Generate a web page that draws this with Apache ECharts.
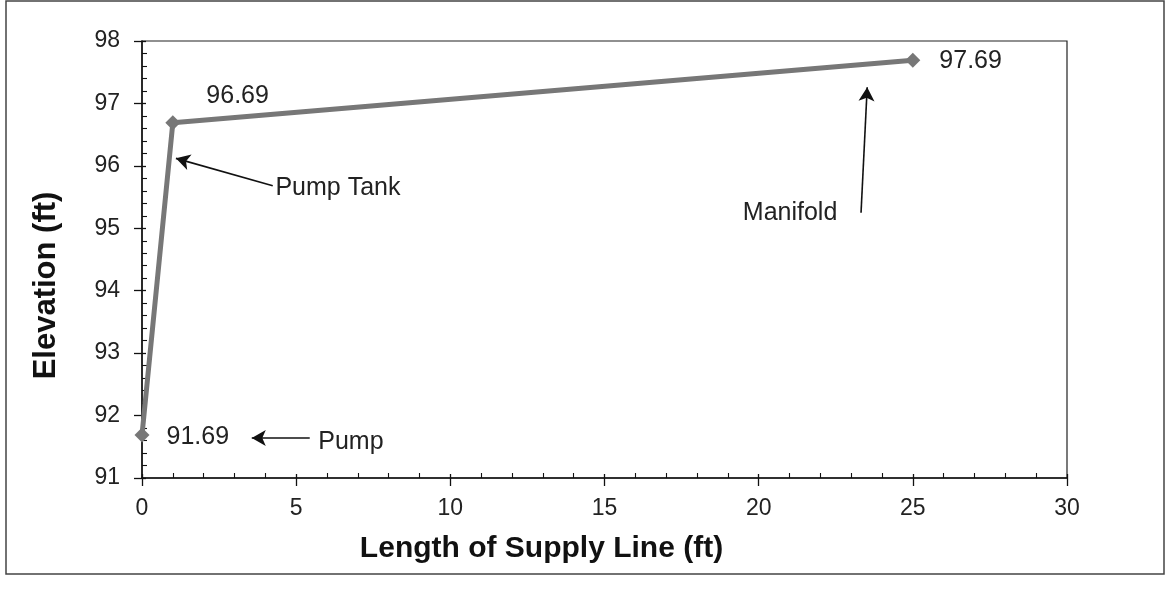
<!DOCTYPE html>
<html>
<head>
<meta charset="utf-8">
<script src="https://cdn.jsdelivr.net/npm/echarts@6/dist/echarts.min.js"></script>
<style>
html,body{margin:0;padding:0;background:#fff;}
#chart{width:1171px;height:593px;}
</style>
</head>
<body>
<div id="chart"></div>
<script>
// ---- data ----
const lengths = [0, 1, 25];
const elevations = [91.69, 96.69, 97.69];
const pointLabels = ['91.69', '96.69', '97.69'];
const xTickRange = [0, 30, 5];
const yTickRange = [91, 98, 1];
const xAxisTitle = 'Length of Supply Line (ft)';
const yAxisTitle = 'Elevation (ft)';
// annotation arrows: [from, to] in data coordinates
const annotationArrows = [
  [[4.24, 95.68], [1.10, 96.12]],
  [[5.44, 91.64], [3.56, 91.64]],
  [[23.32, 95.25], [23.52, 97.26]]
];
const annotationTexts = ['Pump Tank', 'Pump', 'Manifold'];
const annotationTextAt = [[4.31, 95.65], [5.70, 91.57], [19.47, 95.25]];

const FONT = '"Liberation Sans", Arial, sans-serif';
const chart = echarts.init(document.getElementById('chart'));

const labelPlacement = [
  {distance: 17, offset: [0, 2]},
  {distance: 26, offset: [0, -27]},
  {distance: 19, offset: [0, 1]}
];

const option = {
  animation: false,
  backgroundColor: '#fff',
  grid: {left: 142, top: 41, width: 925, height: 437, show: true, borderColor: '#222', borderWidth: 1.2, backgroundColor: 'transparent'},
  xAxis: [{
    type: 'value', min: xTickRange[0], max: xTickRange[1], interval: xTickRange[2],
    name: xAxisTitle, nameLocation: 'middle', nameGap: 56,
    nameTextStyle: {fontFamily: FONT, fontWeight: 'bold', fontSize: 30, color: '#111', padding: [0, 126, 0, 0]},
    axisLine: {lineStyle: {color: '#111', width: 1.5}},
    axisTick: {show: true, inside: false, length: 8, lineStyle: {color: '#111', width: 1.3}},
    axisLabel: {fontFamily: FONT, fontSize: 23, color: '#222', margin: 19},
    splitLine: {show: false}
  }, {
    type: 'value', min: xTickRange[0], max: xTickRange[1], interval: xTickRange[2], position: 'bottom', offset: 0,
    axisLine: {show: false},
    axisTick: {show: true, inside: true, length: 4, lineStyle: {color: '#111', width: 1.3}},
    minorTick: {show: true, splitNumber: 5, length: 5, lineStyle: {color: '#111', width: 1.1}},
    axisLabel: {show: false}, splitLine: {show: false}
  }],
  yAxis: [{
    type: 'value', min: yTickRange[0], max: yTickRange[1], interval: yTickRange[2],
    name: yAxisTitle, nameLocation: 'middle', nameGap: 80,
    nameTextStyle: {fontFamily: FONT, fontWeight: 'bold', fontSize: 31, color: '#111', padding: [0, 52, 0, 0]},
    axisLine: {lineStyle: {color: '#111', width: 1.5}},
    axisTick: {show: true, inside: false, length: 8, lineStyle: {color: '#111', width: 1.3}},
    axisLabel: {fontFamily: FONT, fontSize: 23, color: '#222', margin: 22},
    splitLine: {show: false}
  }, {
    type: 'value', min: yTickRange[0], max: yTickRange[1], interval: yTickRange[2], position: 'left', offset: 0,
    axisLine: {show: false},
    axisTick: {show: true, inside: true, length: 4, lineStyle: {color: '#111', width: 1.3}},
    minorTick: {show: true, splitNumber: 5, length: 5, lineStyle: {color: '#111', width: 1.1}},
    axisLabel: {show: false}, splitLine: {show: false}
  }],
  series: [{
    type: 'line',
    data: lengths.map((x, i) => ({
      value: [x, elevations[i]],
      label: {show: true, position: 'right', distance: labelPlacement[i].distance, offset: labelPlacement[i].offset,
        formatter: pointLabels[i], fontFamily: FONT, fontSize: 25, color: '#222'}
    })),
    symbol: 'diamond', symbolSize: 15,
    lineStyle: {color: '#777', width: 5},
    itemStyle: {color: '#777'},
    z: 3
  }, {
    type: 'line', data: [], silent: true,
    markLine: {
      silent: true, animation: false,
      symbol: ['none', 'arrow'], symbolSize: [12, 14],
      lineStyle: {color: '#111', width: 1.6, type: 'solid'},
      label: {show: false},
      data: annotationArrows.map(a => [{coord: a[0]}, {coord: a[1]}])
    },
    markPoint: {
      silent: true, animation: false,
      symbol: 'circle', symbolSize: 1, itemStyle: {color: 'rgba(0,0,0,0)'},
      label: {show: true, position: 'right', distance: 0, fontFamily: FONT, fontSize: 25, color: '#222'},
      data: annotationTexts.map((t, i) => ({coord: annotationTextAt[i], value: t, label: {formatter: t}}))
    }
  }],
  graphic: [{
    type: 'rect', shape: {x: 6, y: 1, width: 1158, height: 573},
    style: {fill: 'none', stroke: '#444', lineWidth: 1.5}, silent: true, z: -1
  }]
};
chart.setOption(option);
</script>
</body>
</html>
